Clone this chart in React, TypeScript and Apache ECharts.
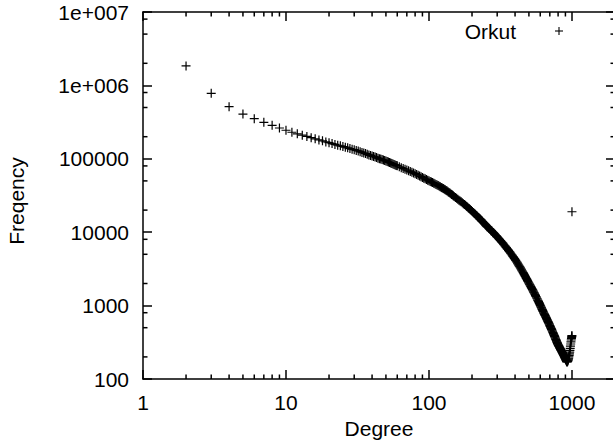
import React, { useEffect, useRef } from 'react';
import * as echarts from 'echarts';

const seriesName = 'Orkut';
const xName = 'Degree';
const yName = 'Freqency';

const degrees = [
  2, 3, 4, 5, 6, 7, 8, 9, 10, 11, 12, 13, 14, 15, 16, 17, 18, 19, 20,
  21, 22, 23, 24, 25, 26, 27, 28, 29, 30, 31, 32, 33, 34, 35, 36, 37, 38, 39, 40,
  41, 42, 43, 44, 45, 46, 47, 48, 49, 50, 51, 52, 53, 54, 55, 56, 57, 58, 59, 60,
  62, 64, 66, 68, 70, 72, 74, 76, 78, 80, 82, 84, 86, 88, 90, 92, 94, 96, 98, 100,
  102, 104, 106, 108, 110, 112, 114, 116, 118, 120, 122, 124, 126, 128, 130, 132, 134, 136, 138, 140, 142, 144, 146, 148, 150,
  153, 156, 159, 162, 165, 168, 171, 174, 177, 180, 183, 186, 189, 192, 195, 198,
  201, 204, 207, 210, 213, 216, 219, 222, 225, 228, 231, 234, 237, 240, 243, 246, 249,
  252, 255, 258, 261, 264, 267, 270, 273, 276, 279, 282, 285, 288, 291, 294, 297, 300,
  304, 308, 312, 316, 320, 324, 328, 332, 336, 340, 344, 348, 352, 356, 360, 364, 368, 372, 376, 380, 384, 388, 392, 396,
  400, 404, 408, 412, 416, 420, 424, 428, 432, 436, 440, 444, 448, 452, 456, 460, 464, 468, 472, 476, 480, 484, 488, 492, 496,
  500, 504, 508, 512, 516, 520, 524, 528, 532, 536, 540, 544, 548, 552, 556, 560, 564, 568, 572, 576, 580, 584, 588, 592, 596,
  600, 604, 608, 612, 616, 620, 624, 628, 632, 636, 640, 644, 648, 652, 656, 660, 664, 668, 672, 676, 680, 684, 688, 692, 696,
  700, 704, 708, 712, 716, 720, 724, 728, 732, 736, 740, 744, 748, 752, 756, 760, 764, 768, 772, 776, 780, 784, 788, 792, 796,
  800, 804, 808, 812, 816, 820, 824, 828, 832, 836, 840, 844, 848, 852, 856, 860, 864, 868, 872, 876, 880, 884, 888,
  892, 896, 900, 904, 908, 912, 916, 920, 924, 928, 932, 936, 940, 944, 948, 952, 956, 960, 964, 968, 972, 976, 980, 984, 988, 992, 995, 997, 999, 1000,
];

const frequencies = [
  1840000, 780000, 513000, 407000, 352000, 314000, 286000, 263000, 245000, 230000, 219000, 210000, 202000, 194000, 187000, 181000, 176000, 170000, 166000,
  161000, 157000, 153000, 150000, 147000, 144000, 141000, 138000, 135000, 133000, 130000, 128000, 125000, 122000, 120000, 118000, 115000, 113000, 111000, 109000,
  107500, 106000, 104000, 102000, 100500, 99100, 97600, 96200, 94700, 93300, 91800, 90400, 89000, 87600, 86200, 84900, 83600, 82400, 81200, 80100,
  77900, 75800, 73800, 72000, 70300, 68600, 67000, 65500, 64100, 62700, 61100, 59700, 58300, 57000, 55700, 54500, 53300, 52200, 51200, 50100,
  49200, 48300, 47400, 46500, 45700, 44800, 44000, 43200, 42400, 41600, 40800, 40100, 39400, 38600, 37800, 37000, 36300, 35500, 34800, 34100, 33400, 32700, 32000, 31400, 30700,
  29800, 28900, 28100, 27300, 26600, 25900, 25200, 24500, 23800, 23200, 22600, 22000, 21400, 20800, 20200, 19700,
  19100, 18600, 18100, 17700, 17200, 16800, 16300, 15900, 15500, 15100, 14700, 14300, 13900, 13600, 13200, 12900, 12500,
  12200, 11900, 11700, 11400, 11200, 11000, 10700, 10500, 10300, 10000, 9830, 9620, 9420, 9220, 9020, 8830, 8640,
  8400, 8160, 7930, 7710, 7500, 7290, 7080, 6890, 6690, 6510, 6330, 6150, 5980, 5810, 5650, 5490, 5340, 5190, 5050, 4910, 4770, 4640, 4510, 4380,
  4270, 4140, 4020, 3900, 3790, 3670, 3570, 3460, 3360, 3260, 3160, 3070, 2980, 2890, 2810, 2720, 2640, 2560, 2490, 2410, 2340, 2270, 2210, 2140, 2080,
  2020, 1960, 1910, 1860, 1810, 1760, 1710, 1660, 1620, 1570, 1530, 1490, 1450, 1410, 1370, 1330, 1300, 1260, 1230, 1190, 1160, 1130, 1100, 1070, 1040,
  1010, 982, 955, 929, 904, 879, 855, 832, 812, 792, 773, 754, 736, 718, 701, 684, 667, 651, 635, 620, 605, 590, 576, 562, 548,
  535, 522, 510, 497, 485, 474, 462, 451, 440, 430, 419, 409, 399, 390, 380, 371, 362, 353, 345, 336, 328, 320, 313, 305, 298,
  293, 288, 283, 278, 273, 268, 263, 259, 254, 250, 245, 241, 237, 233, 229, 225, 221, 217, 213, 209, 206, 202, 199,
  195, 191, 188, 185, 181, 178, 175, 172, 171, 172, 174, 177, 181, 186, 193, 201, 210, 220, 232, 246, 262, 280, 300, 320, 340, 355, 370, 380, 390, 19000,
];

const xTickLabels = ['1', '10', '100', '1000'];
const yTickLabels = ['100', '1000', '10000', '100000', '1e+006', '1e+007'];
const xMinorMultipliers = [2, 3, 4, 5, 6, 7, 8, 9];
const yMinorMultipliers = [2, 5, 8];

const X_MIN = 1;
const X_MAX = 2000;
const Y_MIN = 100;
const Y_MAX = 10000000;

const FONT = "'Liberation Sans', Arial, Helvetica, sans-serif";
const FONT_SIZE = 21;
const PLUS = 'path://M0,3.9h9v1.2h-9z M3.9,0h1.2v9h-1.2z';

function minorValues(mults: number[], lo: number, hi: number): number[] {
  const out: number[] = [];
  for (let p = lo; p < hi; p *= 10) {
    for (const m of mults) {
      const v = m * p;
      if (v > lo && v < hi) out.push(v);
    }
  }
  return out;
}

function decadeLabel(v: number, labels: string[], offset: number): string {
  const l = Math.log10(v);
  const i = Math.round(l);
  if (Math.abs(l - i) > 1e-6) return '';
  return labels[i - offset] ?? '';
}

export default function App() {
  const ref = useRef<HTMLDivElement>(null);

  useEffect(() => {
    if (!ref.current) return;
    const chart = echarts.init(ref.current, null, { renderer: 'svg' });

    const axisLine = { show: true, onZero: false, lineStyle: { color: '#000', width: 1.5 } };
    const axisTick = { show: true, inside: true, length: 9, lineStyle: { color: '#000', width: 1.5 } };
    const labelStyle = { color: '#000', fontSize: FONT_SIZE, fontFamily: FONT };

    const xMinor = minorValues(xMinorMultipliers, X_MIN, X_MAX);
    const yMinor = minorValues(yMinorMultipliers, Y_MIN, Y_MAX);

    const tickStyle = { stroke: '#000', lineWidth: 1.5 };

    const option: any = {
      animation: false,
      backgroundColor: '#fff',
      grid: { left: 143, top: 12, right: -2, bottom: 68, containLabel: false, outerBoundsMode: 'none' },
      xAxis: [
        {
          type: 'log', logBase: 10, min: X_MIN, max: X_MAX, position: 'bottom',
          axisLine, axisTick,
          splitLine: { show: false },
          axisLabel: {
            ...labelStyle, margin: 13, showMaxLabel: false,
            formatter: (v: number) => decadeLabel(v, xTickLabels, 0),
          },
          name: xName, nameLocation: 'middle', nameGap: 36,
          nameTextStyle: labelStyle,
        },
        {
          type: 'log', logBase: 10, min: X_MIN, max: X_MAX, position: 'top',
          axisLine, axisTick,
          splitLine: { show: false },
          axisLabel: { show: false },
        },
      ],
      yAxis: [
        {
          type: 'log', logBase: 10, min: Y_MIN, max: Y_MAX, position: 'left',
          axisLine, axisTick,
          splitLine: { show: false },
          axisLabel: {
            ...labelStyle, margin: 14,
            formatter: (v: number) => decadeLabel(v, yTickLabels, 2),
          },
        },
        {
          type: 'log', logBase: 10, min: Y_MIN, max: Y_MAX, position: 'right',
          axisLine, axisTick,
          splitLine: { show: false },
          axisLabel: { show: false },
        },
      ],
      graphic: [
        {
          type: 'text', x: 16, y: 201, rotation: Math.PI / 2,
          style: { text: yName, fill: '#000', fontSize: FONT_SIZE, fontFamily: FONT, align: 'center', verticalAlign: 'middle' },
        },
        {
          type: 'group',
          children: [
            {
              type: 'text', x: 516, y: 31,
              style: { text: seriesName, fill: '#000', fontSize: FONT_SIZE, fontFamily: FONT, align: 'right', verticalAlign: 'middle' },
            },
            { type: 'rect', shape: { x: 555, y: 30.45, width: 8, height: 1.1 }, style: { fill: '#000' } },
            { type: 'rect', shape: { x: 558.45, y: 27, width: 1.1, height: 8 }, style: { fill: '#000' } },
          ],
        },
      ],
      series: [
        {
          name: seriesName,
          type: 'scatter',
          xAxisIndex: 0, yAxisIndex: 0,
          symbol: PLUS,
          symbolSize: 9,
          itemStyle: { color: '#000', opacity: 1 },
          data: degrees.map((d, i) => [d, frequencies[i]]),
          z: 2,
        },
        {
          name: 'xMinorTicks',
          type: 'custom', coordinateSystem: 'cartesian2d', xAxisIndex: 0, yAxisIndex: 0,
          silent: true, z: 3,
          data: xMinor.map((v) => [v, Y_MIN]),
          renderItem: (params: any, api: any) => {
            const cs = params.coordSys;
            const p = api.coord([api.value(0), Y_MIN]);
            const x = p[0];
            const b = cs.y + cs.height;
            const t = cs.y;
            return {
              type: 'group',
              children: [
                { type: 'line', shape: { x1: x, y1: b, x2: x, y2: b - 4.5 }, style: tickStyle },
                { type: 'line', shape: { x1: x, y1: t, x2: x, y2: t + 4.5 }, style: tickStyle },
              ],
            };
          },
        },
        {
          name: 'yMinorTicks',
          type: 'custom', coordinateSystem: 'cartesian2d', xAxisIndex: 0, yAxisIndex: 0,
          silent: true, z: 3,
          data: yMinor.map((v) => [X_MIN, v]),
          renderItem: (params: any, api: any) => {
            const cs = params.coordSys;
            const p = api.coord([X_MIN, api.value(1)]);
            const y = p[1];
            const l = cs.x;
            const r = cs.x + cs.width;
            return {
              type: 'group',
              children: [
                { type: 'line', shape: { x1: l, y1: y, x2: l + 4.5, y2: y }, style: tickStyle },
                { type: 'line', shape: { x1: r, y1: y, x2: r - 4.5, y2: y }, style: tickStyle },
              ],
            };
          },
        },
      ],
    };

    chart.setOption(option);
    return () => chart.dispose();
  }, []);

  return <div ref={ref} style={{ position: 'absolute', left: 0, top: 0, width: 613, height: 447 }} />;
}
